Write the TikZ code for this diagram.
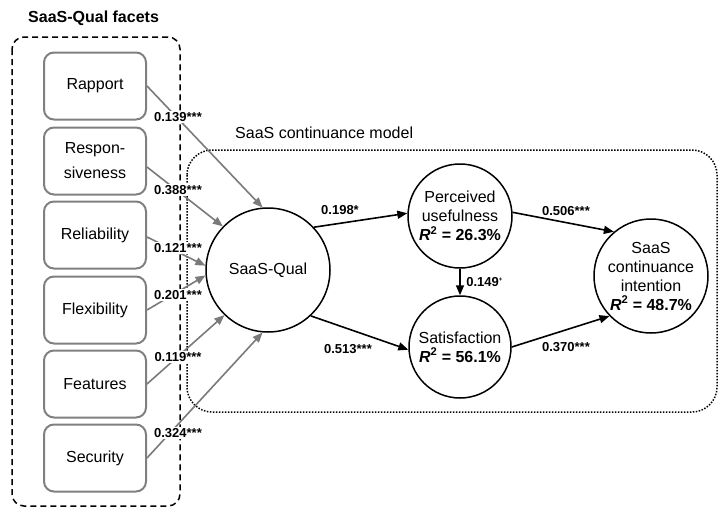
\documentclass[tikz,border=0pt]{standalone}
\usepackage{fontspec}
\setmainfont{Liberation Sans}
\usetikzlibrary{arrows.meta}

\definecolor{facetgrey}{HTML}{808080}
\definecolor{arrowgrey}{HTML}{7A7A7A}

\begin{document}
\begin{tikzpicture}[x=1pt,y=-1pt,
  facet/.style={draw=facetgrey, line width=2pt, rounded corners=10pt,
    minimum width=102pt, minimum height=67pt, align=center,
    font=\fontsize{16}{25}\selectfont, inner sep=2pt},
  construct/.style={circle, draw, line width=1.5pt, align=center,
    font=\fontsize{16}{19}\selectfont, inner sep=0pt},
  coef/.style={font=\fontsize{13}{15}\selectfont\bfseries, inner sep=1.2pt},
  coefbg/.style={coef, fill=white},
  greyarrow/.style={draw=arrowgrey, line width=1.6pt,
    -{Triangle[length=10pt,width=8pt]}},
  patharrow/.style={draw=black, line width=1.6pt,
    -{Triangle[length=10pt,width=8pt]}},
  title/.style={font=\fontsize{16}{19}\selectfont, inner sep=0pt, anchor=west},
]
\useasboundingbox (0,0) rectangle (718,509);

% group frames
\draw[line width=1.5pt, dash pattern=on 6pt off 4pt, rounded corners=12pt]
  (12,37) rectangle (180,506);
\draw[line width=1.5pt, dash pattern=on 1.5pt off 1.5pt, rounded corners=25pt]
  (187,150) rectangle (717,412);

\node[title, font=\fontsize{16}{19}\selectfont\bfseries] (facetstitle) at (28,18) {SaaS-Qual facets};
\node[title] (modeltitle) at (235,133) {SaaS continuance model};

% facets
\node[facet] (rapport)  at (95,86)  {Rapport};
\node[facet] (resp)     at (95,161) {Respon-\\siveness};
\node[facet] (reliab)   at (95,235) {Reliability};
\node[facet] (flex)     at (95,310) {Flexibility};
\node[facet] (features) at (95,384) {Features};
\node[facet] (security) at (95,458) {Security};

% constructs
\node[construct, minimum size=124pt] (sq)  at (268,270) {SaaS-Qual};
\node[construct, minimum size=104pt] (pu)  at (460,216)
  {Perceived\\usefulness\\\textbf{\textit{R}\textsuperscript{2} = 26.3\%}};
\node[construct, minimum size=102pt] (sat) at (460,347)
  {Satisfaction\\\textbf{\textit{R}\textsuperscript{2} = 56.1\%}};
\node[construct, minimum size=114pt] (sci) at (651,276)
  {SaaS\\continuance\\intention\\\textbf{\textit{R}\textsuperscript{2} = 48.7\%}};

% facet paths
\draw[greyarrow] (rapport.east) -- (sq.95);
\draw[greyarrow] ([yshift=-6pt]resp.east) -- (sq.136);
\draw[greyarrow] ([yshift=-2pt]reliab.east) -- (sq.176);
\draw[greyarrow] (flex.east) -- (sq.185);
\draw[greyarrow] (features.east) -- (sq.226);
\draw[greyarrow] (security.east) -- (sq.265);

\node[coefbg] (c1) at (178,117) {0.139***};
\node[coefbg] (c2) at (178,190) {0.388***};
\node[coefbg] (c3) at (178,248) {0.121***};
\node[coefbg] (c4) at (178,295) {0.201***};
\node[coefbg] (c5) at (178,357) {0.119***};
\node[coefbg] (c6) at (178,433) {0.324***};

% structural paths
\draw[patharrow] (sq.43) -- (pu.177);
\draw[patharrow] (sq.-47) -- (sat.183);
\draw[patharrow] (pu.4) -- (sci.130);
\draw[patharrow] (sat.0) -- (sci.224);
\draw[patharrow] (pu.south) -- (sat.north);

\node[coef] (p1) at (340,210) {0.198*};
\node[coef] (p2) at (348,349) {0.513***};
\node[coef] (p3) at (566,211) {0.506***};
\node[coef] (p4) at (566,347) {0.370***};
\node[coef, anchor=west] (p5) at (465,282)
  {0.149\raisebox{5pt}{\fontsize{6}{6}\selectfont +}};
\end{tikzpicture}
\end{document}
